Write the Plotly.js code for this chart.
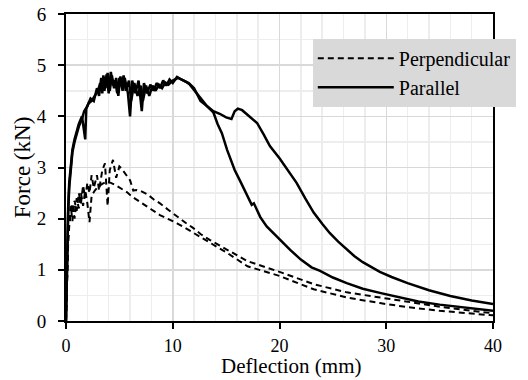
<!DOCTYPE html>
<html>
<head>
<meta charset="utf-8">
<script src="https://cdn.plot.ly/plotly-3.0.1.min.js"></script>
<style>html,body{margin:0;padding:0;background:#fff;}#chart{width:528px;height:380px;}</style>
</head>
<body>
<div id="chart"></div>
<script>
// Parallel specimen A (shoulder near 16 mm)
const parAx = [0,0.05,0.12,0.2,0.3,0.45,0.6,0.8,1.0,1.2,1.5,1.8,1.9,2.1,2.4,2.7,3.0,3.2,3.4,3.5,3.7,3.9,4.1,4.3,4.5,4.7,4.9,5.1,5.3,5.5,5.8,6.0,6.2,6.5,6.8,7.1,7.3,7.6,7.9,8.2,8.5,8.8,9.1,9.4,9.7,10.0,10.4,10.8,11.2,11.6,12.0,12.6,13.2,13.8,14.4,15.0,15.5,15.8,16.1,16.5,17.0,17.9,18.5,19.1,20.0,20.8,21.6,22.4,23.2,24.0,24.7,25.5,26.3,27.0,27.8,28.6,29.4,30.5,32,34,36,38,40];
const parAy = [0,0.8,1.6,2.2,2.7,3.1,3.35,3.55,3.7,3.85,4.0,3.55,4.15,4.25,4.3,4.4,4.5,4.65,4.45,4.8,4.55,4.85,4.5,4.8,4.55,4.75,4.4,4.78,4.5,4.75,4.45,4.0,4.7,4.45,4.7,4.1,4.65,4.45,4.62,4.5,4.65,4.55,4.7,4.6,4.72,4.65,4.77,4.72,4.68,4.62,4.52,4.35,4.2,4.1,4.05,3.98,3.95,4.1,4.15,4.12,4.03,3.87,3.65,3.42,3.18,2.95,2.7,2.4,2.12,1.9,1.72,1.55,1.39,1.27,1.15,1.05,0.96,0.86,0.74,0.6,0.49,0.4,0.33];
// Parallel specimen B (early drop)
const parBx = [0,0.05,0.12,0.2,0.3,0.45,0.6,0.8,1.0,1.2,1.5,1.7,2.0,2.3,2.6,2.9,3.1,3.3,3.6,3.8,4.0,4.2,4.4,4.6,4.8,5.0,5.2,5.4,5.6,5.9,6.1,6.4,6.7,7.0,7.2,7.5,7.8,8.1,8.4,8.7,9.0,9.3,9.6,10.0,10.5,11.0,11.5,12.0,12.6,13.2,13.8,14.2,14.6,15.1,15.8,16.4,16.9,17.4,17.6,18.2,18.8,19.4,20.2,21.0,22.0,23.0,23.8,25.0,26.3,27.8,29.4,31,33,35,37,40];
const parBy = [0,0.7,1.5,2.1,2.6,3.0,3.3,3.5,3.65,3.8,3.95,4.1,4.2,4.35,4.3,4.55,4.4,4.75,4.5,4.82,4.45,4.87,4.6,4.7,4.45,4.75,4.6,4.8,4.5,4.7,4.3,4.65,4.4,4.6,4.3,4.6,4.4,4.6,4.5,4.62,4.55,4.66,4.62,4.7,4.75,4.7,4.65,4.55,4.3,4.2,4.08,3.85,3.67,3.34,2.95,2.7,2.5,2.27,2.3,2.03,1.85,1.72,1.55,1.39,1.2,1.05,0.98,0.85,0.74,0.63,0.55,0.47,0.38,0.32,0.27,0.2];
// Perpendicular specimen 1 (higher peak)
const perp1x = [0,0.1,0.2,0.3,0.45,0.6,0.8,1.0,1.2,1.4,1.6,1.8,2.0,2.2,2.4,2.6,2.9,3.1,3.4,3.65,3.9,4.1,4.4,4.7,5.0,5.2,5.5,5.8,6.0,6.3,6.6,7.0,7.6,8.2,8.8,9.6,10.4,11.2,11.9,12.6,13.5,15.1,17.0,20.0,23.2,26.3,29.4,32,35,40];
const perp1y = [0,1.0,1.6,2.0,2.25,1.95,2.35,2.15,2.5,2.3,2.65,2.4,2.7,2.5,2.85,2.6,2.85,2.55,2.95,3.08,2.25,2.95,3.15,2.8,3.02,2.98,2.9,2.8,2.75,2.55,2.56,2.54,2.48,2.38,2.3,2.17,2.04,1.92,1.82,1.7,1.58,1.39,1.17,0.96,0.72,0.56,0.46,0.37,0.28,0.15];
// Perpendicular specimen 2 (lower peak)
const perp2x = [0,0.1,0.2,0.3,0.45,0.6,0.8,1.0,1.2,1.4,1.6,1.8,2.0,2.2,2.4,2.7,3.0,3.4,3.8,4.2,4.6,5.2,5.7,6.2,7.2,8.0,8.8,9.6,10.4,11.4,12.3,13.5,15.1,17.0,20.0,23.2,26.3,29.4,32,35,40];
const perp2y = [0,0.9,1.5,1.85,2.1,2.3,2.0,2.4,2.2,2.5,2.25,2.55,2.3,1.93,2.45,2.55,2.62,2.68,2.72,2.7,2.66,2.58,2.52,2.43,2.3,2.18,2.07,1.99,1.91,1.79,1.68,1.52,1.33,1.07,0.88,0.62,0.46,0.35,0.27,0.2,0.11];

const xTitle = 'Deflection (mm)';
const yTitle = 'Force (kN)';
const names = ['Perpendicular', 'Parallel'];

const FONT = 'Liberation Serif';
const dashed = {color: '#000', width: 2, dash: '6px,4px'};
const solid = {color: '#000', width: 2.5};

const traces = [
  {x: perp1x, y: perp1y, mode: 'lines', line: dashed, name: names[0], legendgroup: 'perp', showlegend: true},
  {x: perp2x, y: perp2y, mode: 'lines', line: dashed, name: names[0], legendgroup: 'perp', showlegend: false},
  {x: parAx, y: parAy, mode: 'lines', line: solid, name: names[1], legendgroup: 'par', showlegend: true},
  {x: parBx, y: parBy, mode: 'lines', line: solid, name: names[1], legendgroup: 'par', showlegend: false}
];

const axisCommon = {
  showline: true, linecolor: '#000', linewidth: 2, mirror: true,
  ticks: 'outside', ticklen: 6, tickwidth: 2, tickcolor: '#000',
  showgrid: true, gridcolor: '#d9d9d9', gridwidth: 1.5,
  zeroline: false, automargin: false,
  tickfont: {family: FONT, size: 19, color: '#000'}
};

const layout = {
  width: 528, height: 380,
  margin: {l: 66, r: 35, t: 14, b: 59},
  paper_bgcolor: '#fff', plot_bgcolor: '#fff',
  font: {family: FONT, color: '#000'},
  xaxis: Object.assign({}, axisCommon, {
    range: [0, 40], tick0: 0, dtick: 10, ticklabelstandoff: 1,
    tickfont: {family: FONT, size: 18, color: '#000'},
    minor: {dtick: 2, showgrid: true, gridcolor: '#ededed', gridwidth: 1.5, ticks: ''}
  }),
  yaxis: Object.assign({}, axisCommon, {
    range: [0, 6], tick0: 0, dtick: 1, ticklabelstandoff: 8,
    minor: {dtick: 0.5, showgrid: true, gridcolor: '#ededed', gridwidth: 1.5, ticks: ''},
    title: {text: yTitle, font: {family: FONT, size: 23, color: '#000'}, standoff: 0}
  }),
  annotations: [{
    text: xTitle, xref: 'paper', yref: 'paper', x: 0.527, y: -0.19,
    xanchor: 'center', yanchor: 'bottom', showarrow: false, borderpad: 0,
    font: {family: FONT, size: 21, color: '#000'}
  }],
  legend: {
    x: 0.578, y: 0.919, xanchor: 'left', yanchor: 'top',
    bgcolor: '#d9d9d9', borderwidth: 0,
    font: {family: FONT, size: 20, color: '#000'},
    itemwidth: 76, tracegroupgap: 0
  },
  showlegend: true
};

Plotly.newPlot('chart', traces, layout, {staticPlot: true, displayModeBar: false});
</script>
</body>
</html>
